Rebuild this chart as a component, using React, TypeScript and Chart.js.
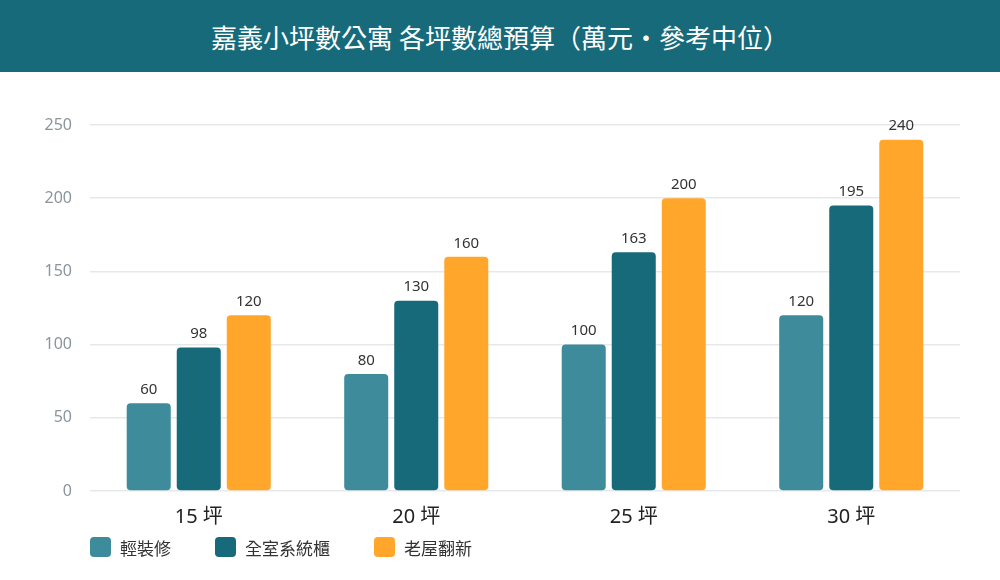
import React, { useEffect, useRef } from "react";
import { Chart, registerables } from "chart.js";

Chart.register(...registerables);

const TITLE = "嘉義小坪數公寓 各坪數總預算（萬元・參考中位）";
const categories = ["15 坪", "20 坪", "25 坪", "30 坪"];
const seriesNames = ["輕裝修", "全室系統櫃", "老屋翻新"];
const lightReno = [60, 80, 100, 120];
const fullCabinet = [98, 130, 163, 195];
const oldHouse = [120, 160, 200, 240];
const seriesColors = ["#3d8b9b", "#176a7a", "#ffa62b"];
const yTicks = [0, 50, 100, 150, 200, 250];

const FONT = "'Noto Sans', 'Noto Sans CJK TC', sans-serif";

const valueLabels = {
  id: "valueLabels",
  afterDatasetsDraw(chart: any) {
    const ctx = chart.ctx;
    ctx.save();
    ctx.font = `15px ${FONT}`;
    ctx.fillStyle = "#333333";
    ctx.textAlign = "center";
    ctx.textBaseline = "bottom";
    chart.data.datasets.forEach((ds: any, i: number) => {
      const meta = chart.getDatasetMeta(i);
      meta.data.forEach((bar: any, j: number) => {
        ctx.fillText(String(ds.data[j]), bar.x, bar.y - 6);
      });
    });
    ctx.restore();
  },
};

export default function App() {
  const ref = useRef<HTMLCanvasElement | null>(null);
  useEffect(() => {
    document.body.style.margin = "0";
    const seriesData = [lightReno, fullCabinet, oldHouse];
    const chart = new Chart(ref.current as HTMLCanvasElement, {
      type: "bar",
      data: {
        labels: categories,
        datasets: seriesNames.map((name, i) => ({
          label: name,
          data: seriesData[i],
          backgroundColor: seriesColors[i],
          borderRadius: 4,
          borderSkipped: false,
          categoryPercentage: 0.69,
          barPercentage: 0.88,
        })),
      },
      options: {
        animation: false,
        responsive: false,
        maintainAspectRatio: false,
        layout: { padding: { left: 0, right: 40, top: 53, bottom: 6 } },
        plugins: {
          legend: { display: false },
          title: { display: false },
          tooltip: { enabled: false },
        },
        scales: {
          x: {
            grid: { display: false },
            border: { display: false },
            ticks: {
              color: "#222222",
              font: { family: FONT, size: 20 },
              padding: 6,
            },
          },
          y: {
            min: 0,
            max: 250,
            afterFit: (scale: any) => {
              scale.width = 90;
            },
            afterBuildTicks: (scale: any) => {
              scale.ticks = yTicks.map((v) => ({ value: v }));
            },
            grid: { color: "#e6e9eb", lineWidth: 1.5, drawTicks: false },
            border: { display: false },
            ticks: {
              color: "#8a959c",
              font: { family: FONT, size: 16 },
              padding: 18,
            },
          },
        },
      },
      plugins: [valueLabels],
    });
    return () => chart.destroy();
  }, []);

  return (
    <div
      style={{
        position: "fixed",
        left: 0,
        top: 0,
        width: 1000,
        height: 580,
        background: "#ffffff",
        fontFamily: FONT,
        overflow: "hidden",
      }}
    >
      <div
        style={{
          position: "absolute",
          left: 0,
          top: 0,
          width: 1000,
          height: 72,
          background: "#176a7a",
          color: "#ffffff",
          fontSize: 26,
          display: "flex",
          alignItems: "center",
          justifyContent: "center",
          fontFamily: "'Noto Sans CJK TC', sans-serif",
        }}
      >
        {TITLE}
      </div>
      <canvas
        ref={ref}
        width={1000}
        height={469}
        style={{ position: "absolute", left: 0, top: 72, width: 1000, height: 469 }}
      />
      <div
        style={{
          position: "absolute",
          left: 90,
          top: 536,
          height: 22,
          display: "flex",
          alignItems: "center",
        }}
      >
        {seriesNames.map((name, i) => (
          <div
            key={name}
            style={{ display: "flex", alignItems: "center", marginRight: i < seriesNames.length - 1 ? 44 : 0 }}
          >
            <span
              style={{
                display: "inline-block",
                width: 21,
                height: 20,
                borderRadius: 4,
                background: seriesColors[i],
                marginRight: 9,
              }}
            />
            <span style={{ fontSize: 17, color: "#333333", fontFamily: "'Noto Sans CJK TC', sans-serif" }}>{name}</span>
          </div>
        ))}
      </div>
    </div>
  );
}
